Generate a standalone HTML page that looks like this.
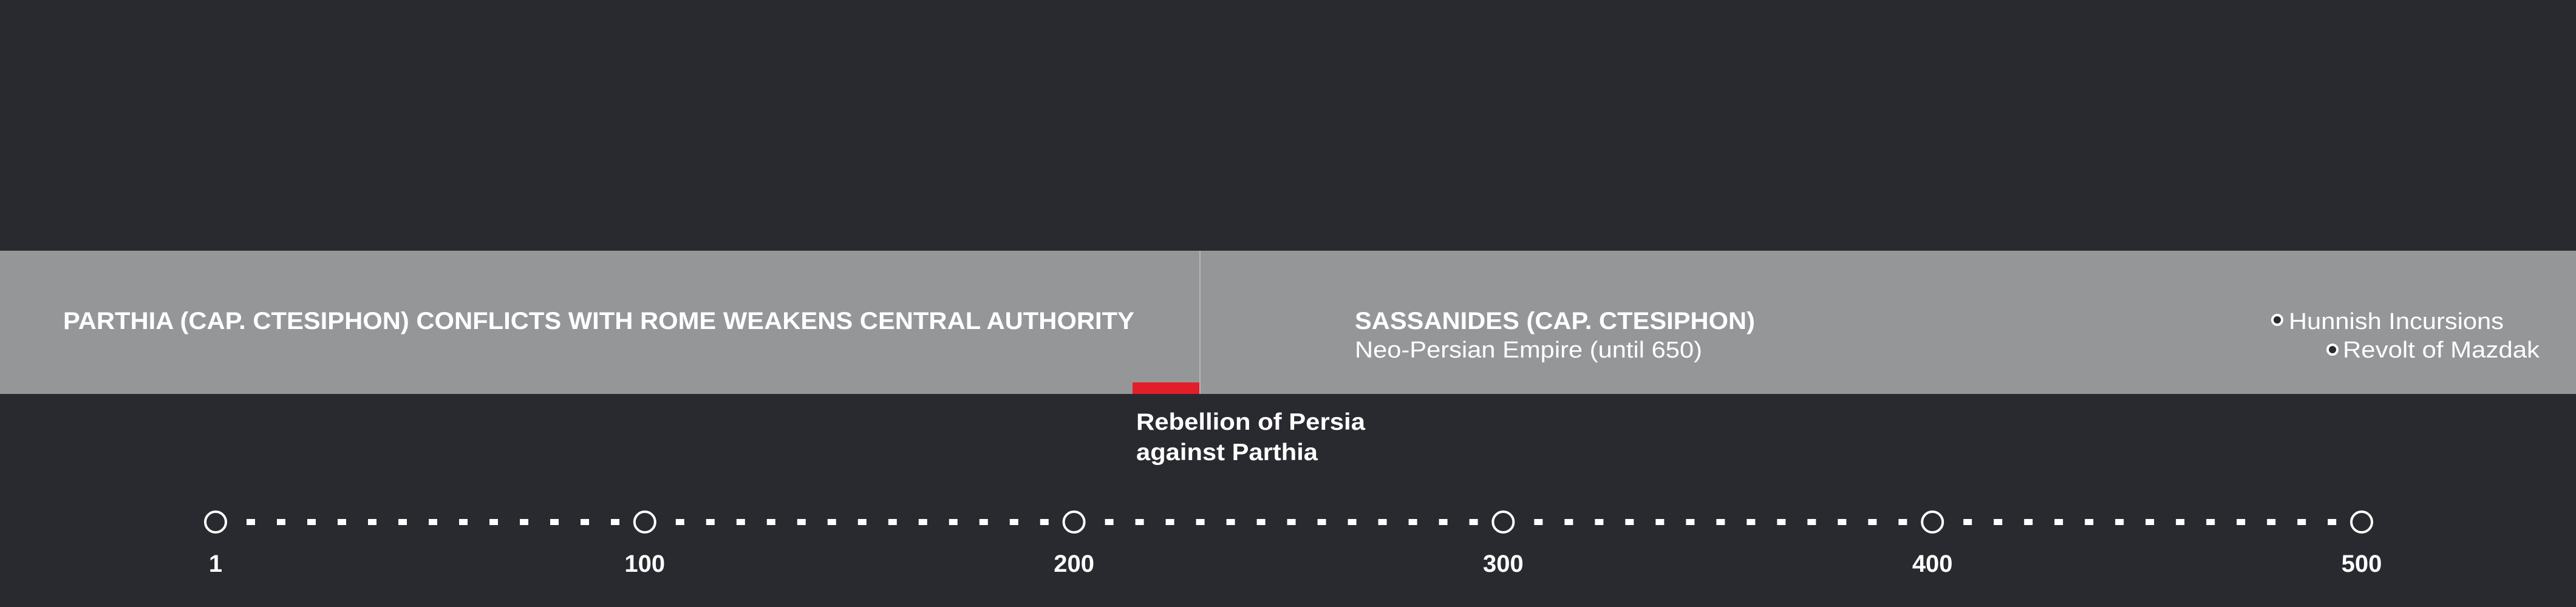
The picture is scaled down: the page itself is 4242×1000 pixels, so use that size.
<!DOCTYPE html>
<html><head><meta charset="utf-8"><style>
html,body{margin:0;padding:0;background:#292a2f;}
svg{display:block;font-family:"Liberation Sans",sans-serif;}
</style></head><body>
<svg id="chart" width="4242" height="1000" viewBox="0 0 4242 1000" xmlns="http://www.w3.org/2000/svg">
<rect x="0" y="0" width="4242" height="1000" fill="#292a2f"/>
<rect x="0" y="413" width="4242" height="236" fill="#959697"/>
<line x1="1976" y1="413" x2="1976" y2="649" stroke="#b4b5b6" stroke-width="2"/>
<rect x="1865" y="630" width="110" height="19" fill="#e31e2a"/>
<text x="104" y="542" font-size="40" font-weight="bold" fill="#fff" textLength="1764" lengthAdjust="spacingAndGlyphs">PARTHIA (CAP. CTESIPHON) CONFLICTS WITH ROME WEAKENS CENTRAL AUTHORITY</text>
<text x="2231" y="542" font-size="40" font-weight="bold" fill="#fff" textLength="659" lengthAdjust="spacingAndGlyphs">SASSANIDES (CAP. CTESIPHON)</text>
<text x="2231" y="589" font-size="38" fill="#fff" textLength="572" lengthAdjust="spacingAndGlyphs">Neo-Persian Empire (until 650)</text>
<circle cx="3750" cy="527" r="8" fill="#292a2f" stroke="#fff" stroke-width="4"/>
<text x="3769" y="542" font-size="38" fill="#fff" textLength="354" lengthAdjust="spacingAndGlyphs">Hunnish Incursions</text>
<circle cx="3841" cy="576" r="8" fill="#292a2f" stroke="#fff" stroke-width="4"/>
<text x="3858" y="589" font-size="38" fill="#fff" textLength="324" lengthAdjust="spacingAndGlyphs">Revolt of Mazdak</text>
<text font-size="39" font-weight="bold" fill="#fff"><tspan x="1871" y="708" textLength="377" lengthAdjust="spacingAndGlyphs">Rebellion of Persia</tspan><tspan x="1871" y="758" textLength="299" lengthAdjust="spacingAndGlyphs">against Parthia</tspan></text>
<g id="axis"></g>
</svg>
<script>
const tickValues = [0, 100, 200, 300, 400, 500];
const tickLabels = ["1", "100", "200", "300", "400", "500"];
const domainMin = 0, domainMax = 500;
const NS = "http://www.w3.org/2000/svg";
const x = v => 355 + (v - domainMin) / (domainMax - domainMin) * (3889 - 355);
const axisY = 860;
const g = document.getElementById("axis");
for (let i = 0; i < tickValues.length; i++) {
  const cx = x(tickValues[i]);
  if (i < tickValues.length - 1) {
    const nx = x(tickValues[i + 1]);
    for (let d = cx + 58; d < nx - 30; d += 50) {
      const r = document.createElementNS(NS, "rect");
      
      
      r.setAttribute("x", d - 7); r.setAttribute("y", axisY - 5);
      r.setAttribute("width", 14); r.setAttribute("height", 10);
      r.setAttribute("fill", "#fff");
      g.appendChild(r);
    }
  }
  const c = document.createElementNS(NS, "circle");
  
  
  c.setAttribute("cx", cx); c.setAttribute("cy", axisY); c.setAttribute("r", 17);
  c.setAttribute("fill", "#292a2f"); c.setAttribute("stroke", "#fff"); c.setAttribute("stroke-width", 4);
  g.appendChild(c);
  const t = document.createElementNS(NS, "text");
  
  
  t.setAttribute("x", cx); t.setAttribute("y", 942);
  t.setAttribute("text-anchor", "middle"); t.setAttribute("font-size", 40);
  t.setAttribute("font-weight", "bold"); t.setAttribute("fill", "#fff");
  t.textContent = tickLabels[i];
  g.appendChild(t);
}
</script>
</body></html>
